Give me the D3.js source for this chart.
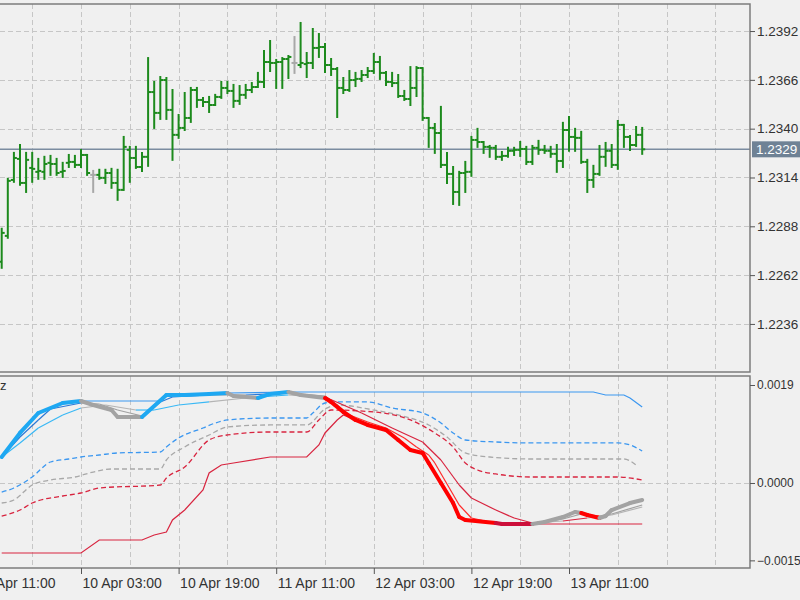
<!DOCTYPE html>
<html>
<head>
<meta charset="utf-8">
<script src="https://cdn.jsdelivr.net/npm/d3@7.9.0/dist/d3.min.js"></script>
<style>
  body { margin: 0; background: #f0f0f0; }
  svg { display: block; font-family: "Liberation Sans", Arial, sans-serif; }
</style>
</head>
<body>
<svg width="800" height="600"></svg>
<script>
// hourly bars, first one at 9 Apr 14:00
const startTime = Date.UTC(2018, 3, 9, 14);

const barOpen = [
  1.22691,1.22829,1.23127,1.23239,1.23111,1.23191,1.23170,1.23170,1.23218,1.23212,
  1.23170,1.23218,1.23223,1.23207,1.23260,1.23154,1.23154,1.23138,1.23164,1.23111,
  1.23074,1.23287,1.23244,1.23196,1.23250,1.23595,1.23484,1.23659,1.23500,1.23367,
  1.23404,1.23457,1.23606,1.23553,1.23542,1.23526,1.23569,1.23617,1.23601,1.23548,
  1.23580,1.23606,1.23622,1.23649,1.23755,1.23750,1.23755,1.23771,1.23750,1.23739,
  1.23744,1.23750,1.23830,1.23835,1.23739,1.23718,1.23617,1.23606,1.23659,1.23665,
  1.23686,1.23707,1.23755,1.23697,1.23649,1.23643,1.23574,1.23558,1.23617,1.23723,
  1.23457,1.23404,1.23377,1.23207,1.23159,1.23063,1.23164,1.23170,1.23340,1.23329,
  1.23303,1.23298,1.23250,1.23255,1.23282,1.23287,1.23292,1.23223,1.23298,1.23287,
  1.23282,1.23266,1.23228,1.23393,1.23356,1.23351,1.23223,1.23127,1.23159,1.23250,
  1.23282,1.23207,1.23420,1.23356,1.23313,1.23367];
const barHigh = [
  1.22867,1.23133,1.23271,1.23313,1.23271,1.23271,1.23239,1.23250,1.23255,1.23239,
  1.23218,1.23260,1.23255,1.23287,1.23260,1.23175,1.23181,1.23181,1.23186,1.23181,
  1.23356,1.23303,1.23303,1.23271,1.23776,1.23649,1.23675,1.23670,1.23606,1.23473,
  1.23590,1.23617,1.23617,1.23564,1.23569,1.23580,1.23649,1.23649,1.23633,1.23627,
  1.23633,1.23643,1.23697,1.23814,1.23867,1.23766,1.23776,1.23787,1.23888,1.23963,
  1.23803,1.23931,1.23904,1.23851,1.23771,1.23723,1.23670,1.23707,1.23697,1.23707,
  1.23723,1.23798,1.23782,1.23702,1.23697,1.23686,1.23601,1.23728,1.23728,1.23723,
  1.23457,1.23425,1.23516,1.23271,1.23196,1.23170,1.23223,1.23356,1.23399,1.23329,
  1.23308,1.23308,1.23276,1.23298,1.23298,1.23329,1.23303,1.23308,1.23335,1.23308,
  1.23303,1.23313,1.23431,1.23462,1.23399,1.23383,1.23234,1.23202,1.23308,1.23324,
  1.23313,1.23441,1.23420,1.23361,1.23409,1.23404];
const barLow = [
  1.22659,1.22819,1.23117,1.23101,1.23063,1.23117,1.23133,1.23133,1.23154,1.23154,
  1.23143,1.23196,1.23196,1.23196,1.23154,1.23063,1.23133,1.23111,1.23085,1.23021,
  1.23074,1.23117,1.23191,1.23175,1.23202,1.23404,1.23452,1.23452,1.23234,1.23351,
  1.23393,1.23436,1.23516,1.23521,1.23489,1.23526,1.23564,1.23590,1.23516,1.23532,
  1.23564,1.23595,1.23622,1.23622,1.23707,1.23617,1.23617,1.23670,1.23697,1.23728,
  1.23675,1.23723,1.23782,1.23702,1.23686,1.23462,1.23590,1.23601,1.23627,1.23654,
  1.23675,1.23697,1.23665,1.23633,1.23627,1.23569,1.23553,1.23526,1.23574,1.23447,
  1.23303,1.23271,1.23196,1.23111,1.22999,1.22994,1.23063,1.23149,1.23303,1.23271,
  1.23250,1.23239,1.23234,1.23250,1.23260,1.23255,1.23212,1.23212,1.23266,1.23271,
  1.23250,1.23170,1.23196,1.23282,1.23282,1.23218,1.23063,1.23090,1.23154,1.23202,
  1.23196,1.23186,1.23303,1.23287,1.23308,1.23266];
const barClose = [
  1.22845,1.23122,1.23244,1.23111,1.23234,1.23186,1.23175,1.23212,1.23212,1.23164,
  1.23175,1.23223,1.23207,1.23260,1.23164,1.23154,1.23138,1.23164,1.23111,1.23074,
  1.23303,1.23244,1.23196,1.23250,1.23595,1.23484,1.23659,1.23500,1.23367,1.23404,
  1.23457,1.23606,1.23553,1.23542,1.23526,1.23569,1.23617,1.23601,1.23548,1.23580,
  1.23606,1.23622,1.23649,1.23755,1.23750,1.23755,1.23771,1.23782,1.23750,1.23750,
  1.23750,1.23830,1.23835,1.23739,1.23718,1.23617,1.23606,1.23659,1.23665,1.23686,
  1.23707,1.23755,1.23697,1.23649,1.23643,1.23574,1.23558,1.23617,1.23723,1.23457,
  1.23404,1.23377,1.23207,1.23159,1.23063,1.23164,1.23170,1.23340,1.23329,1.23303,
  1.23298,1.23250,1.23255,1.23282,1.23287,1.23292,1.23223,1.23298,1.23287,1.23282,
  1.23266,1.23228,1.23393,1.23356,1.23351,1.23223,1.23127,1.23159,1.23250,1.23282,
  1.23207,1.23420,1.23356,1.23313,1.23367,1.23290];

const lastPrice = 1.2329;
const priceTicks = [1.2236, 1.2262, 1.2288, 1.2314, 1.2340, 1.2366, 1.2392];
const indTicks = [-0.0015, 0, 0.0019];
const timeTicks = [
  Date.UTC(2018,3,9,11), Date.UTC(2018,3,10,3), Date.UTC(2018,3,10,19),
  Date.UTC(2018,3,11,11), Date.UTC(2018,3,12,3), Date.UTC(2018,3,12,19),
  Date.UTC(2018,3,13,11)].map(t => new Date(t));

// indicator: [bar, value, trend]
const mainLine = [
  [0,0.000504,'up'],[3,0.000970,'up'],[6,0.001357,'up'],[10,0.001551,'up'],[13,0.001590,'up'],
  [15,0.001512,'flat'],[18,0.001415,'flat'],[19,0.001280,'flat'],[23,0.001280,'flat'],
  [27,0.001706,'up'],[30,0.001706,'up'],[34,0.001726,'up'],[37,0.001745,'up'],
  [38,0.001687,'flat'],[42,0.001648,'flat'],[44,0.001726,'up'],[47,0.001764,'up'],
  [49,0.001706,'flat'],[53,0.001648,'flat'],[54,0.001571,'down'],[56,0.001377,'down'],
  [58,0.001222,'down'],[60,0.001125,'down'],[63,0.001028,'down'],[65,0.000834,'down'],
  [67,0.000640,'down'],[69,0.000582,'down'],[70,0.000388,'down'],[72,0.000000,'down'],
  [74,-0.000388,'down'],[75,-0.000659,'down'],[76,-0.000717,'down'],[81,-0.000776,'down'],
  [82,-0.000795,'weak'],[87,-0.000795,'weak'],[88,-0.000776,'flat'],[89,-0.000756,'flat'],
  [92,-0.000659,'flat'],[94,-0.000562,'flat'],[95,-0.000582,'flat'],[96,-0.000620,'down'],
  [98,-0.000679,'down'],[99,-0.000640,'flat'],[100,-0.000524,'flat'],[103,-0.000388,'flat'],
  [105,-0.000330,'flat']];

const fastLine = [
  [0,0.000504],[3,0.000892],[6,0.001222],[8,0.001435],[13,0.001551],[16,0.001532],
  [19,0.001415],[23,0.001299],[26,0.001571],[28,0.001668],[34,0.001706],[40,0.001706],
  [47,0.001745],[53,0.001687],[55,0.001512],[57,0.001319],[60,0.001183],[63,0.001066],
  [66,0.000873],[68,0.000698],[70,0.000543],[71,0.000388],[73,-0.000019],[75,-0.000427],
  [77,-0.000679],[80,-0.000756],[83,-0.000795],[88,-0.000776],[92,-0.000698],[95,-0.000601],
  [98,-0.000640],[100,-0.000601],[105,-0.000427]];

const slowLine = [
  [0,0.000504],[3,0.000776],[6,0.001066],[10,0.001319],[13,0.001454],[17,0.001512],
  [22,0.001415],[25,0.001415],[29,0.001512],[34,0.001571],[40,0.001648],[47,0.001706],
  [53,0.001668],[59,0.001357],[64,0.001066],[69,0.000795],[72,0.000446],[75,-0.000039],
  [77,-0.000291],[81,-0.000524],[84,-0.000679],[87,-0.000776],[92,-0.000737],[96,-0.000679],
  [100,-0.000620],[105,-0.000465]];

const upperBand = [
  [0,0.000504],[3,0.000970],[6,0.001357],[10,0.001551],[13,0.001590],[26,0.001590],
  [27,0.001706],[30,0.001706],[34,0.001726],[37,0.001745],[47,0.001764],[97,0.001764],
  [99,0.001706],[102,0.001706],[103,0.001648],[105,0.001474]];

const lowerBand = [
  [0,-0.001357],[13,-0.001357],[16,-0.001105],[23,-0.001105],[25,-0.001008],[27,-0.000950],
  [28,-0.000717],[30,-0.000524],[33,-0.000136],[34,0.000194],[36,0.000349],[38,0.000388],
  [44,0.000504],[50,0.000504],[52,0.000737],[53,0.000970],[55,0.001222],[56,0.001319],
  [58,0.001222],[60,0.001125],[63,0.001028],[65,0.000834],[67,0.000640],[69,0.000582],
  [70,0.000388],[72,0.000000],[74,-0.000388],[75,-0.000659],[76,-0.000717],[81,-0.000776],
  [82,-0.000795],[105,-0.000795]];

const levelHigh = [
  [0,-0.000175],[2,-0.000097],[5,0.000116],[8,0.000407],[11,0.000465],[13,0.000504],
  [16,0.000543],[19,0.000582],[26,0.000601],[27,0.000698],[29,0.000873],[33,0.001066],
  [35,0.001163],[37,0.001222],[44,0.001260],[50,0.001260],[51,0.001357],[53,0.001551],
  [55,0.001571],[60,0.001571],[64,0.001454],[69,0.001357],[72,0.001163],[74,0.000970],
  [76,0.000834],[81,0.000795],[87,0.000776],[101,0.000776],[103,0.000737],[105,0.000620]];

const levelMid = [
  [0,-0.000388],[2,-0.000330],[5,-0.000039],[8,0.000058],[12,0.000116],[15,0.000213],
  [18,0.000271],[26,0.000271],[27,0.000446],[30,0.000698],[34,0.000931],[37,0.001086],
  [44,0.001125],[50,0.001125],[53,0.001435],[55,0.001512],[61,0.001415],[65,0.001319],
  [70,0.001125],[73,0.000892],[76,0.000582],[80,0.000504],[87,0.000465],[102,0.000465],
  [104,0.000349]];

const levelLow = [
  [0,-0.000640],[3,-0.000524],[5,-0.000388],[10,-0.000252],[13,-0.000194],[16,-0.000097],
  [26,-0.000039],[27,0.000097],[30,0.000310],[34,0.000834],[37,0.000931],[44,0.000989],
  [50,0.000989],[52,0.001222],[54,0.001415],[61,0.001377],[67,0.001222],[71,0.000970],
  [74,0.000698],[76,0.000388],[78,0.000252],[81,0.000175],[87,0.000116],[101,0.000116],
  [105,0.000058]];

const svg = d3.select('svg');
const mainTop = 4, mainBottom = 372, indTop = 376, indBottom = 568, plotRight = 750;
const barTime = i => new Date(startTime + i * 36e5);

const x = d3.scaleUtc().domain([barTime(0), barTime(105)]).range([1.7, 642.2]);
const y = d3.scaleLinear().domain([1.22104, 1.24064]).range([mainBottom, mainTop]);
const yInd = d3.scaleLinear().domain([-0.001648, 0.0020745]).range([indBottom, indTop]);

svg.append('rect').attr('width', 800).attr('height', 600).attr('fill', '#f0f0f0');

const defs = svg.append('defs');
defs.append('clipPath').attr('id', 'clipMain').append('rect')
  .attr('x', 0).attr('y', mainTop).attr('width', plotRight).attr('height', mainBottom - mainTop);
defs.append('clipPath').attr('id', 'clipInd').append('rect')
  .attr('x', 0).attr('y', indTop).attr('width', plotRight).attr('height', indBottom - indTop);

// grid, every 8 hours
const gridTimes = d3.range(-3, 120, 8).map(barTime);
const gridColor = '#c6c6c6';
const gMain = svg.append('g').attr('clip-path', 'url(#clipMain)');
const gInd = svg.append('g').attr('clip-path', 'url(#clipInd)');

[[gMain, mainTop, mainBottom], [gInd, indTop, indBottom]].forEach(([g, t, b]) => {
  g.selectAll('line.vgrid').data(gridTimes).join('line')
    .attr('class', 'vgrid')
    .attr('x1', d => Math.round(x(d)) + 0.5).attr('x2', d => Math.round(x(d)) + 0.5)
    .attr('y1', t).attr('y2', b)
    .attr('stroke', gridColor).attr('stroke-dasharray', '5,3');
});
gMain.selectAll('line.hgrid').data(priceTicks).join('line')
  .attr('x1', 0).attr('x2', plotRight)
  .attr('y1', d => Math.round(y(d)) + 0.5).attr('y2', d => Math.round(y(d)) + 0.5)
  .attr('stroke', gridColor).attr('stroke-dasharray', '5,3');
gInd.selectAll('line.hgrid').data([0]).join('line')
  .attr('x1', 0).attr('x2', plotRight)
  .attr('y1', d => Math.round(yInd(d)) + 0.5).attr('y2', d => Math.round(yInd(d)) + 0.5)
  .attr('stroke', gridColor).attr('stroke-dasharray', '5,3');

// last price line
gMain.append('line')
  .attr('x1', 0).attr('x2', plotRight)
  .attr('y1', y(lastPrice)).attr('y2', y(lastPrice))
  .attr('stroke', '#7b8ca0').attr('stroke-width', 1.6);

// OHLC bars
const bars = d3.range(barOpen.length).map(i => ({
  t: barTime(i), o: barOpen[i], h: barHigh[i], l: barLow[i], c: barClose[i]
}));
const barColor = d => d.o === d.c ? '#a8a8a8' : '#1c8a1c';
const bg = gMain.selectAll('g.bar').data(bars).join('g').attr('class', 'bar')
  .attr('stroke', barColor).attr('stroke-width', 2);
bg.append('line')
  .attr('x1', d => x(d.t)).attr('x2', d => x(d.t))
  .attr('y1', d => y(d.h) - 1).attr('y2', d => y(d.l) + 1);
bg.append('line')
  .attr('x1', d => x(d.t) - 3).attr('x2', d => x(d.t))
  .attr('y1', d => y(d.o)).attr('y2', d => y(d.o));
bg.append('line')
  .attr('x1', d => x(d.t)).attr('x2', d => x(d.t) + 3)
  .attr('y1', d => y(d.c)).attr('y2', d => y(d.c));

// indicator
const lineGen = d3.line().x(d => x(barTime(d[0]))).y(d => yInd(d[1]));
const smoothGen = d3.line().x(d => x(barTime(d[0]))).y(d => yInd(d[1])).curve(d3.curveMonotoneX);

const levels = [
  [levelHigh, '#3b97f0'], [levelMid, '#a8a8a8'], [levelLow, '#d8243f']
];
levels.forEach(([data, col]) => {
  gInd.append('path').datum(data).attr('d', smoothGen)
    .attr('fill', 'none').attr('stroke', col).attr('stroke-width', 1.3)
    .attr('stroke-dasharray', '5,3');
});

gInd.append('path').datum(upperBand).attr('d', lineGen)
  .attr('fill', 'none').attr('stroke', '#3b97f0').attr('stroke-width', 1.2);
gInd.append('path').datum(lowerBand).attr('d', lineGen)
  .attr('fill', 'none').attr('stroke', '#d8243f').attr('stroke-width', 1.2);

const trendAt = i => (mainLine.find(d => d[0] >= i) || mainLine[mainLine.length - 1])[2];
const pairs = data => d3.pairs(data);

const slowColors = { up: '#39b8f5', flat: '#b4b4b4', down: '#d8243f', weak: '#d8243f' };
const fastColors = { up: '#2a78d6', flat: '#a0a0a0', down: '#ff2a2a', weak: '#c8103c' };
const mainColors = { up: '#1ea8f2', flat: '#a3a3a3', down: '#ff0000', weak: '#cc0f3a' };

gInd.selectAll('path.slow').data(pairs(slowLine)).join('path').attr('class', 'slow')
  .attr('d', d => lineGen(d)).attr('fill', 'none')
  .attr('stroke', d => slowColors[trendAt(d[1][0])]).attr('stroke-width', 1.2);
gInd.selectAll('path.fast').data(pairs(fastLine)).join('path').attr('class', 'fast')
  .attr('d', d => lineGen(d)).attr('fill', 'none')
  .attr('stroke', d => fastColors[trendAt(d[1][0])]).attr('stroke-width', 1.2);
gInd.selectAll('path.main').data(pairs(mainLine)).join('path').attr('class', 'main')
  .attr('d', d => lineGen(d)).attr('fill', 'none')
  .attr('stroke', d => mainColors[d[1][2]]).attr('stroke-width', 4)
  .attr('stroke-linecap', 'round');

// panel frames
svg.append('rect').attr('x', -2).attr('y', mainTop).attr('width', plotRight + 2)
  .attr('height', mainBottom - mainTop).attr('fill', 'none').attr('stroke', '#7c7c7c').attr('stroke-width', 1.5);
svg.append('rect').attr('x', -2).attr('y', indTop).attr('width', plotRight + 2)
  .attr('height', indBottom - indTop).attr('fill', 'none').attr('stroke', '#7c7c7c').attr('stroke-width', 1.5);

// indicator short name, mostly off the left edge
svg.append('text').attr('x', 0).attr('y', 390).attr('font-size', 13).attr('fill', '#333').text('z');

// axes
const styleAxis = g => {
  g.select('.domain').remove();
  g.selectAll('.tick line').attr('stroke', '#555');
  g.selectAll('.tick text').attr('fill', '#333').attr('font-family', '"Liberation Sans", Arial, sans-serif');
};
svg.append('g').attr('transform', `translate(${plotRight},0)`)
  .call(d3.axisRight(y).tickValues(priceTicks).tickSize(5).tickPadding(2).tickFormat(d3.format('.4f')))
  .call(styleAxis)
  .selectAll('text').attr('font-size', 13.5);
svg.append('g').attr('transform', `translate(${plotRight},0)`)
  .call(d3.axisRight(yInd).tickValues(indTicks).tickSize(5).tickPadding(2).tickFormat(d3.format('.4f')))
  .call(styleAxis)
  .selectAll('text').attr('font-size', 12);
svg.append('g').attr('transform', `translate(0,${indBottom})`)
  .call(d3.axisBottom(x).tickValues(timeTicks).tickSize(6).tickPadding(4)
    .tickFormat(d3.utcFormat('%-d %b %H:%M')))
  .call(styleAxis)
  .selectAll('text').attr('font-size', 14).attr('text-anchor', 'start').attr('dx', 1);

// last price tag
const tag = svg.append('g').attr('transform', `translate(752,${y(lastPrice)})`);
tag.append('rect').attr('x', 0).attr('y', -8).attr('width', 50).attr('height', 16).attr('fill', '#6f8295');
tag.append('text').attr('x', 4).attr('y', 5).attr('fill', '#fff').attr('font-size', 13.5)
  .text(d3.format('.4f')(lastPrice));
</script>
</body>
</html>
